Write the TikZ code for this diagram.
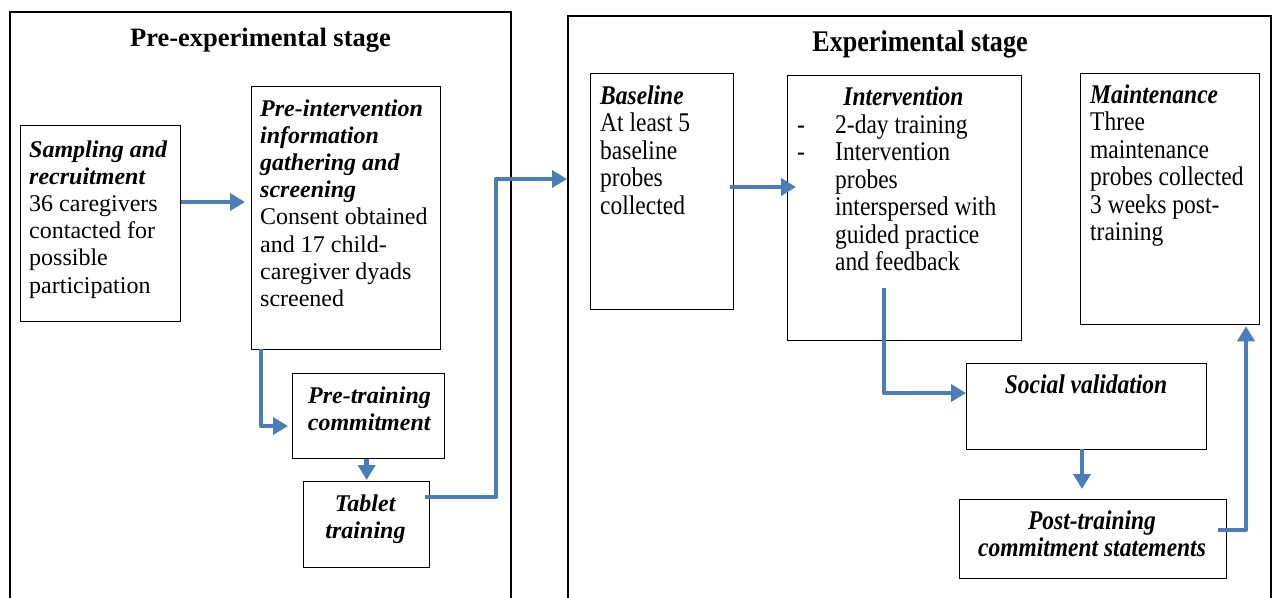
\documentclass[tikz,border=0pt]{standalone}
\usepackage{fontspec}
\setmainfont{Liberation Serif}
\newfontfamily\condfont{Liberation Serif}[FakeStretch=0.87]
\usetikzlibrary{arrows.meta,calc}
\definecolor{flowblue}{HTML}{4A7EBB}
\newcommand{\bi}[1]{\textbf{\textit{#1}}}
\tikzset{
  panel/.style={draw=black, line width=1.3pt},
  stagebox/.style={draw=black, line width=1.3pt, inner sep=0pt, anchor=north west, fill=white},
  flow/.style={draw=flowblue, line width=4.8pt, line join=round,
    -{Triangle[length=15pt,width=17pt]}},
  lefttxt/.style={inner sep=0pt, font=\fontsize{24}{27.2}\selectfont},
  righttxt/.style={inner sep=0pt, font=\condfont\fontsize{27}{27.5}\selectfont},
}
\begin{document}
\begin{tikzpicture}[x=1pt,y=-1pt]
\useasboundingbox (0,0) rectangle (1274,597);

% stage frames (open at the bottom edge)
\draw[panel] (10,600) -- (10,12) -- (511,12) -- (511,600);
\draw[panel] (568,600) -- (568,16) -- (1271,16) -- (1271,600);
\node[inner sep=0pt, anchor=base, font=\fontsize{26.5}{30}\selectfont\bfseries]
  (pretitle) at (260.5,46) {Pre-experimental stage};
\node[inner sep=0pt, anchor=base, font=\condfont\fontsize{30}{32}\selectfont\bfseries]
  (exptitle) at (920,51) {Experimental stage};

% pre-experimental boxes
\node[stagebox, minimum width=160pt, minimum height=196pt] (samp) at (20,125) {};
\node[stagebox, minimum width=189pt, minimum height=263pt] (preint) at (251,86) {};
\node[stagebox, minimum width=152pt, minimum height=85pt] (pretr) at (292,373) {};
\node[stagebox, minimum width=126pt, minimum height=86pt] (tablet) at (303,481) {};

\node[lefttxt, anchor=base west] (samptxt) at (29,157) {\parbox[t]{150pt}{\raggedright
  \bi{Sampling and}\\ \bi{recruitment}\\ 36 caregivers\\ contacted for\\ possible\\ participation}};
\node[lefttxt, anchor=base west] (preinttxt) at (260,116) {\parbox[t]{180pt}{\raggedright
  \bi{Pre-intervention}\\ \bi{information}\\ \bi{gathering and}\\ \bi{screening}\\
  Consent obtained\\ and 17 child-\\ caregiver dyads\\ screened}};
\node[lefttxt, anchor=base] (pretrtxt) at (369.5,403) {\parbox[t]{150pt}{\centering
  \bi{Pre-training}\\ \bi{commitment}}};
\node[lefttxt, anchor=base] (tablettxt) at (365.5,511) {\parbox[t]{120pt}{\centering
  \bi{Tablet}\\ \bi{training}}};

% experimental boxes
\node[stagebox, minimum width=143pt, minimum height=236pt] (base) at (590,73) {};
\node[stagebox, minimum width=234pt, minimum height=265pt] (interv) at (787,75) {};
\node[stagebox, minimum width=179pt, minimum height=251pt] (maint) at (1080,73) {};
\node[stagebox, minimum width=240pt, minimum height=86pt] (social) at (966,363) {};
\node[stagebox, minimum width=267pt, minimum height=79pt] (post) at (959,499) {};

\node[righttxt, anchor=base west] (basetxt) at (600,104) {\parbox[t]{130pt}{\raggedright
  \bi{Baseline}\\ At least 5\\ baseline\\ probes\\ collected}};
\node[righttxt, anchor=base] (intervhead) at (903.5,105) {\bi{Intervention}};
\node[righttxt, anchor=base west] (intervtxt) at (797,133) {\parbox[t]{220pt}{\raggedright
  \makebox[38pt][l]{-}2-day training\\
  \makebox[38pt][l]{-}Intervention\\
  \hspace*{38pt}probes\\
  \hspace*{38pt}interspersed with\\
  \hspace*{38pt}guided practice\\
  \hspace*{38pt}and feedback}};
\node[righttxt, anchor=base west] (mainttxt) at (1090,103) {\parbox[t]{170pt}{\raggedright
  \bi{Maintenance}\\ Three\\ maintenance\\ probes collected\\ 3 weeks post-\\ training}};
\node[righttxt, anchor=base] (socialtxt) at (1086,393) {\bi{Social validation}};
\node[righttxt, anchor=base] (posttxt) at (1092,529) {\parbox[t]{260pt}{\centering
  \bi{Post-training}\\ \bi{commitment statements}}};

% connector anchor points
\coordinate (a1) at (0,202);
\coordinate (a2) at (261,349);
\coordinate (a2y) at (0,426);
\coordinate (a4) at (425,497);
\coordinate (a4x) at (496,0);
\coordinate (expin) at (567,179);
\coordinate (a5) at (730,187);
\coordinate (a5e) at (796,187);
\coordinate (a6) at (884,288);
\coordinate (a6y) at (0,393);
\coordinate (a7) at (1082,449);
\coordinate (a8) at (1218,530);
\coordinate (a8x) at (1246,0);

% connectors
\draw[flow, shorten >=6pt] (samp.east |- a1) -- (preint.west |- a1);
\draw[flow, shorten >=4pt] (a2) |- (pretr.west |- a2y);
\draw[flow, shorten >=1pt] (pretr.south -| tablet.north) -- (tablet.north);
\draw[flow] (a4) -| (a4x |- expin) -- (expin);
\draw[flow] (a5) -- (a5e);
\draw[flow] (a6) |- (social.west |- a6y);
\draw[flow, shorten >=10pt] (a7) -- (a7 |- post.north);
\draw[flow, shorten >=1pt] (a8) -| (a8x |- maint.south);
\end{tikzpicture}
\end{document}
